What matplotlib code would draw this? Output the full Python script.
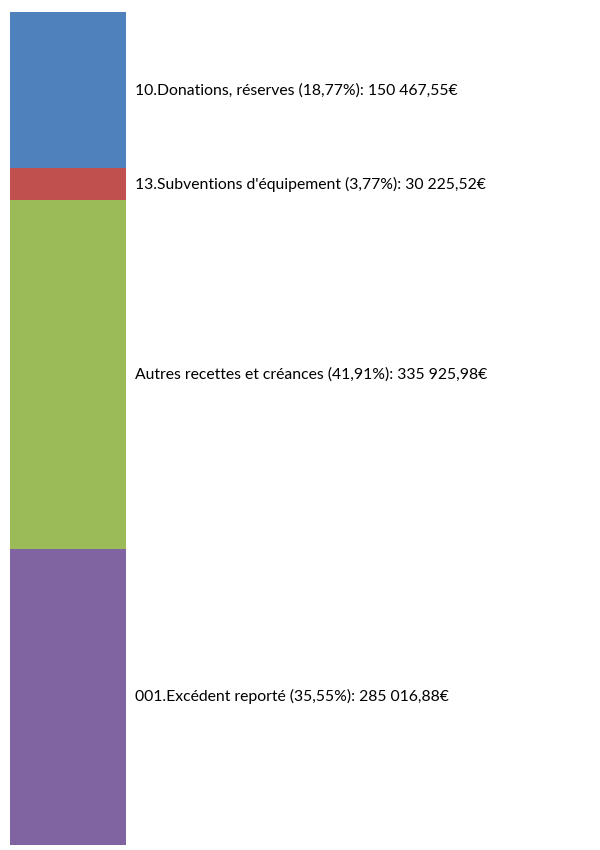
import matplotlib.pyplot as plt
from matplotlib.transforms import blended_transform_factory

categories = ["10.Donations, réserves", "13.Subventions d'équipement",
              "Autres recettes et créances", "001.Excédent reporté"]
values = [150467.55, 30225.52, 335925.98, 285016.88]
colors = ["#4F81BD", "#C0504D", "#9BBB59", "#8064A2"]


def fr_money(v):
    s = "{:,.2f}".format(v)
    return s.replace(",", " ").replace(".", ",") + "€"


total = sum(values)

fig = plt.figure(figsize=(6, 8.5), dpi=100)
ax = fig.add_axes([10 / 600, 5 / 850, 116 / 600, 833 / 850])

bottom = 0
trans = blended_transform_factory(ax.transAxes, ax.transData)
for cat, val, col in zip(categories, values, colors):
    ax.bar(0, val, width=1, bottom=bottom, color=col, linewidth=0)
    pct = "{:.2f}".format(val / total * 100).replace(".", ",")
    label = "{} ({}%): {}".format(cat, pct, fr_money(val))
    ax.text(1 + 9 / 116, bottom + val / 2, label, transform=trans,
            ha="left", va="center", fontsize=11.3, family="Lato",
            color="#000000")
    bottom += val

ax.set_xlim(-0.5, 0.5)
ax.set_ylim(total, 0)
ax.axis("off")

fig.savefig("out.png", dpi=100)
